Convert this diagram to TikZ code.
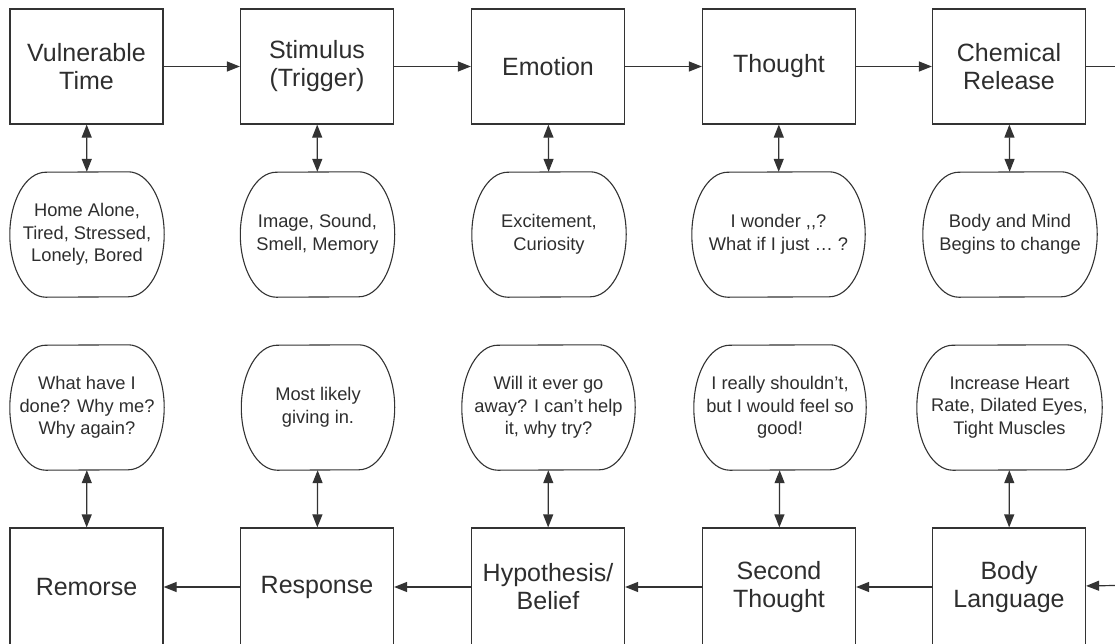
\documentclass[tikz,border=0pt]{standalone}
\usepackage{fontspec}
\setmainfont{Liberation Sans}
\usepackage{tikz}
\usetikzlibrary{
  arrows.meta,
  positioning,
  calc
}
\definecolor{cyclegray}{HTML}{333333}
\definecolor{cycletext}{HTML}{2E2E2E}

\begin{document}
\begin{tikzpicture}[
  x=1pt, y=1pt,
  stage/.style={
    rectangle, draw=cyclegray, line width=1.2pt, fill=white,
    minimum width=153, minimum height=115, inner sep=0pt,
    align=center, text=cycletext,
    font=\fontsize{25}{28}\selectfont
  },
  feeling/.style={
    rectangle, minimum width=#1, minimum height=125, inner sep=0pt,
    align=center, text=cycletext,
    font=\fontsize{18.3}{22.5}\selectfont
  },
  feeling/.default=154,
  flow/.style={line width=1.2pt, cyclegray, -{Triangle[length=13pt, width=10pt]}},
  link/.style={line width=1.2pt, cyclegray,
    {Triangle[length=13pt, width=10pt]}-{Triangle[length=13pt, width=10pt]}}
]
\useasboundingbox (0,0) rectangle (1115,-643);

% Top row
\node[stage] (vulnerable) at (86.5, -66.5) {Vulnerable\\Time};
\node[stage] (stimulus) at (317, -66.5) {Stimulus\\(Trigger)};
\node[stage] (emotion) at (548, -66.5) {Emotion};
\node[stage] (thought) at (779, -66.5) {Thought};
\node[stage] (chemical) at (1009, -66.5) {Chemical\\Release};
\coordinate (outR) at (1115, -66.5);

\node[feeling] (vulnerableNote) at (87, -234.5) {Home Alone,\\Tired, Stressed,\\Lonely, Bored};
\node[feeling] (stimulusNote) at (317.5, -234.5) {Image, Sound,\\Smell, Memory};
\node[feeling] (emotionNote) at (549, -234.5) {Excitement,\\Curiosity};
\node[feeling=173] (thoughtNote) at (778.5, -234.5) {I wonder ,\kern0pt,?\\What if I just … ?};
\node[feeling=174] (chemicalNote) at (1010, -234.5) {Body and Mind\\Begins to change};

% Bottom row
\node[feeling] (remorseNote) at (87, -407.5) {What have I\\done? Why me?\\Why again?};
\node[feeling=153] (responseNote) at (318, -407.5) {Most likely\\giving in.};
\node[feeling=173] (hypothesisNote) at (548.5, -407.5) {Will it ever go\\away? I can’t help\\it, why try?};
\node[feeling=172] (secondNote) at (780, -407.5) {I really shouldn’t,\\but I would feel so\\good!};
\node[feeling=185] (bodyNote) at (1009.5, -407.5) {Increase Heart\\Rate, Dilated Eyes,\\Tight Muscles};

\node[stage, minimum height=118] (remorse) at (86.5, -587) {Remorse};
\node[stage, minimum height=118] (response) at (317, -587) {Response};
\node[stage, minimum height=118] (hypothesis) at (548, -587) {Hypothesis/\\Belief};
\node[stage, minimum height=118] (second) at (779, -587) {Second\\Thought};
\node[stage, minimum height=118] (body) at (1009, -587) {Body\\Language};
\coordinate (inR) at (1115, -585.5);

% rounded outlines of the notes
\foreach \n in {vulnerableNote, stimulusNote, emotionNote, thoughtNote, chemicalNote,
                remorseNote, responseNote, hypothesisNote, secondNote, bodyNote} {
  \draw[cyclegray, line width=1.1pt]
    ($(\n.north east)+(-36,0)$) arc[start angle=90, end angle=-90, x radius=36, y radius=62.5]
    -- ($(\n.south west)+(36,0)$) arc[start angle=270, end angle=90, x radius=36, y radius=62.5]
    -- cycle;
}

% Forward flow
\draw[flow] (vulnerable) -- (stimulus);
\draw[flow] (stimulus) -- (emotion);
\draw[flow] (emotion) -- (thought);
\draw[flow] (thought) -- (chemical);
\draw[line width=1.2pt, cyclegray] (chemical) -- (outR);

\draw[flow] (inR) -- (body);
\draw[flow] (body) -- (second);
\draw[flow] (second) -- (hypothesis);
\draw[flow] (hypothesis) -- (response);
\draw[flow] (response) -- (remorse);

% Stage <-> note
\draw[link] (vulnerable) -- (vulnerableNote);
\draw[link] (stimulus) -- (stimulusNote);
\draw[link] (emotion) -- (emotionNote);
\draw[link] (thought) -- (thoughtNote);
\draw[link] (chemical) -- (chemicalNote);

\draw[link] (remorseNote) -- (remorse);
\draw[link] (responseNote) -- (response);
\draw[link] (hypothesisNote) -- (hypothesis);
\draw[link] (secondNote) -- (second);
\draw[link] (bodyNote) -- (body);

\end{tikzpicture}
\end{document}
